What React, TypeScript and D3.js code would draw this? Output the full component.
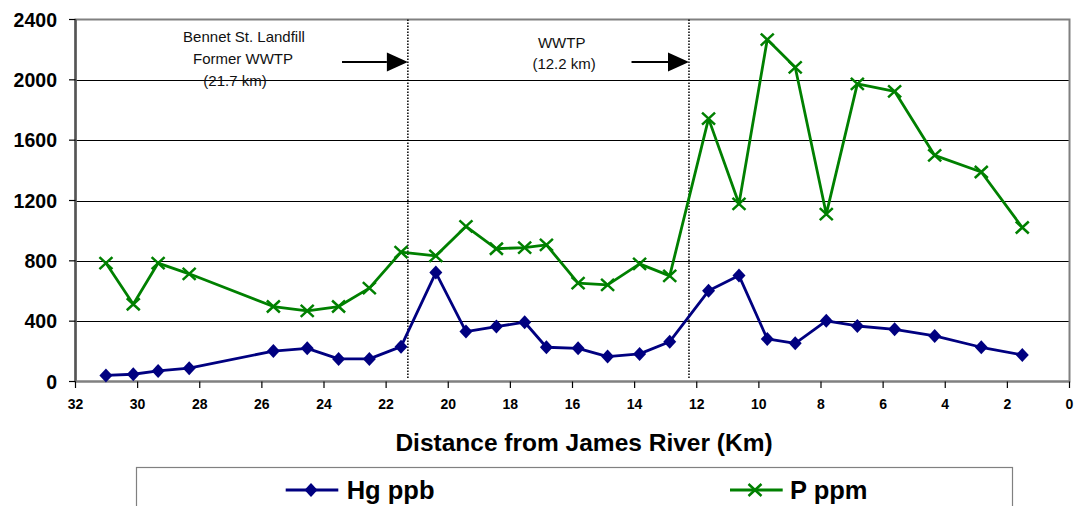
import React from "react";
import * as d3 from "d3";

const distanceKm = [31.02, 30.14, 29.34, 28.34, 25.63, 24.54, 23.53, 22.54, 21.52, 20.4, 19.43, 18.45, 17.54, 16.84, 15.82, 14.87, 13.84, 12.87, 11.62, 10.64, 9.73, 8.83, 7.83, 6.83, 5.63, 4.34, 2.84, 1.52];
const hgPpb = [40, 48, 70, 88, 202, 220, 150, 150, 231, 722, 331, 364, 393, 227, 220, 165, 183, 264, 601, 702, 282, 253, 402, 368, 346, 302, 227, 176];
const pPpm = [785, 512, 785, 714, 497, 468, 497, 619, 858, 833, 1028, 880, 888, 906, 652, 641, 780, 700, 1743, 1178, 2267, 2083, 1110, 1973, 1924, 1499, 1389, 1021];

const xTicks = [32, 30, 28, 26, 24, 22, 20, 18, 16, 14, 12, 10, 8, 6, 4, 2, 0];
const yTicks = [0, 400, 800, 1200, 1600, 2000, 2400];

const markerLinesKm = [21.3, 12.25];
const arrowStartKm = [23.42, 14.1];
const annotation1 = ["Bennet St. Landfill", "Former WWTP", "(21.7 km)"];
const annotation2 = ["WWTP", " (12.2 km)"];

const HG_COLOR = "#000080";
const P_COLOR = "#008000";
const FONT = "'Liberation Sans', Arial, sans-serif";

export default function App() {
  const W = 1076, H = 506;
  const x = d3.scaleLinear().domain([32, 0]).range([75.5, 1069.5]);
  const y = d3.scaleLinear().domain([0, 2400]).range([381.5, 19.5]);
  const line = d3
    .line<[number, number]>()
    .x((d) => x(d[0]))
    .y((d) => y(d[1]));
  const hgPts: [number, number][] = distanceKm.map((k, i) => [k, hgPpb[i]]);
  const pPts: [number, number][] = distanceKm.map((k, i) => [k, pPpm[i]]);

  const diamond = (cx: number, cy: number) =>
    `M${cx},${cy - 7}L${cx + 6.5},${cy}L${cx},${cy + 7}L${cx - 6.5},${cy}Z`;
  const cross = (cx: number, cy: number) =>
    `M${cx - 6.5},${cy - 6}L${cx + 6.5},${cy + 6}M${cx - 6.5},${cy + 6}L${cx + 6.5},${cy - 6}`;

  const arrowY = 62;

  return (
    <svg
      width={W}
      height={H}
      style={{ position: "absolute", left: 0, top: 0, background: "#fff" }}
      fontFamily={FONT}
    >
      <rect x={0} y={0} width={W} height={H} fill="#fff" />
      {/* gridlines */}
      {yTicks
        .filter((t) => t > 0 && t < 2400)
        .map((t) => (
          <line key={t} x1={x(32)} x2={x(0)} y1={Math.round(y(t)) + 0.5} y2={Math.round(y(t)) + 0.5} stroke="#000" strokeWidth={1} />
        ))}
      {/* plot border */}
      <rect x={x(32)} y={y(2400)} width={x(0) - x(32)} height={y(0) - y(2400)} fill="none" stroke="#808080" strokeWidth={2} />
      {/* left axis */}
      <line x1={x(32)} x2={x(32)} y1={y(2400)} y2={y(0)} stroke="#555" strokeWidth={2.5} />
      <line x1={x(32)} x2={x(0)} y1={y(0)} y2={y(0)} stroke="#808080" strokeWidth={2} />
      {/* y ticks */}
      {yTicks.map((t) => (
        <g key={t}>
          <line x1={69} x2={x(32)} y1={y(t)} y2={y(t)} stroke="#000" strokeWidth={1.2} />
          <text x={57} y={y(t)} dy="0.36em" textAnchor="end" fontSize={19.5} fontWeight="bold">
            {t}
          </text>
        </g>
      ))}
      {/* x ticks */}
      {xTicks.map((t) => (
        <g key={t}>
          <line x1={x(t)} x2={x(t)} y1={y(0)} y2={y(0) + 6.5} stroke="#000" strokeWidth={1.2} />
          <text x={x(t)} y={409} textAnchor="middle" fontSize={14} fontWeight="bold">
            {t}
          </text>
        </g>
      ))}
      {/* x title */}
      <text x={584} y={451} textAnchor="middle" fontSize={24.5} fontWeight="bold">
        Distance from James River (Km)
      </text>
      {/* marker vertical dotted lines */}
      {markerLinesKm.map((k) => (
        <line key={k} x1={x(k)} x2={x(k)} y1={y(2400)} y2={y(0) - 2} stroke="#000" strokeWidth={1.5} strokeDasharray="1.5,1.5" />
      ))}
      {/* arrows */}
      {markerLinesKm.map((k, i) => {
        const tip = x(k);
        const base = tip - 21;
        return (
          <g key={"a" + k}>
            <line x1={x(arrowStartKm[i])} x2={base} y1={arrowY} y2={arrowY} stroke="#000" strokeWidth={2} />
            <path d={`M${tip},${arrowY}L${base},${arrowY - 9.5}L${base},${arrowY + 9.5}Z`} fill="#000" />
          </g>
        );
      })}
      {/* annotations */}
      <text fontSize={15} textAnchor="middle" fill="#111">
        <tspan x={244} y={42.3}>{annotation1[0]}</tspan>
        <tspan x={243} y={64}>{annotation1[1]}</tspan>
        <tspan x={235} y={85.5}>{annotation1[2]}</tspan>
      </text>
      <text fontSize={15} textAnchor="middle" fill="#111">
        <tspan x={561.7} y={48.3}>{annotation2[0]}</tspan>
        <tspan x={562} y={68.5} style={{ whiteSpace: "pre" }}>{annotation2[1]}</tspan>
      </text>
      {/* series */}
      <path d={line(hgPts) || ""} fill="none" stroke={HG_COLOR} strokeWidth={2.8} strokeLinejoin="round" />
      {hgPts.map((d, i) => (
        <path key={"h" + i} d={diamond(x(d[0]), y(d[1]))} fill={HG_COLOR} />
      ))}
      <path d={line(pPts) || ""} fill="none" stroke={P_COLOR} strokeWidth={2.8} strokeLinejoin="round" />
      {pPts.map((d, i) => (
        <path key={"p" + i} d={cross(x(d[0]), y(d[1]))} stroke={P_COLOR} strokeWidth={2.5} fill="none" />
      ))}
      {/* legend */}
      <rect x={136.5} y={467.5} width={876} height={60} fill="#fff" stroke="#808080" strokeWidth={1.2} />
      <line x1={285.7} x2={338.3} y1={490} y2={490} stroke={HG_COLOR} strokeWidth={3} />
      <path d={diamond(311, 490)} fill={HG_COLOR} />
      <text x={346.7} y={498.5} fontSize={25.5} fontWeight="bold">Hg ppb</text>
      <line x1={730} x2={782.7} y1={490} y2={490} stroke={P_COLOR} strokeWidth={3} />
      <path d={cross(755, 490)} stroke={P_COLOR} strokeWidth={2.5} fill="none" />
      <text x={790} y={498.5} fontSize={25.5} fontWeight="bold">P ppm</text>
    </svg>
  );
}
